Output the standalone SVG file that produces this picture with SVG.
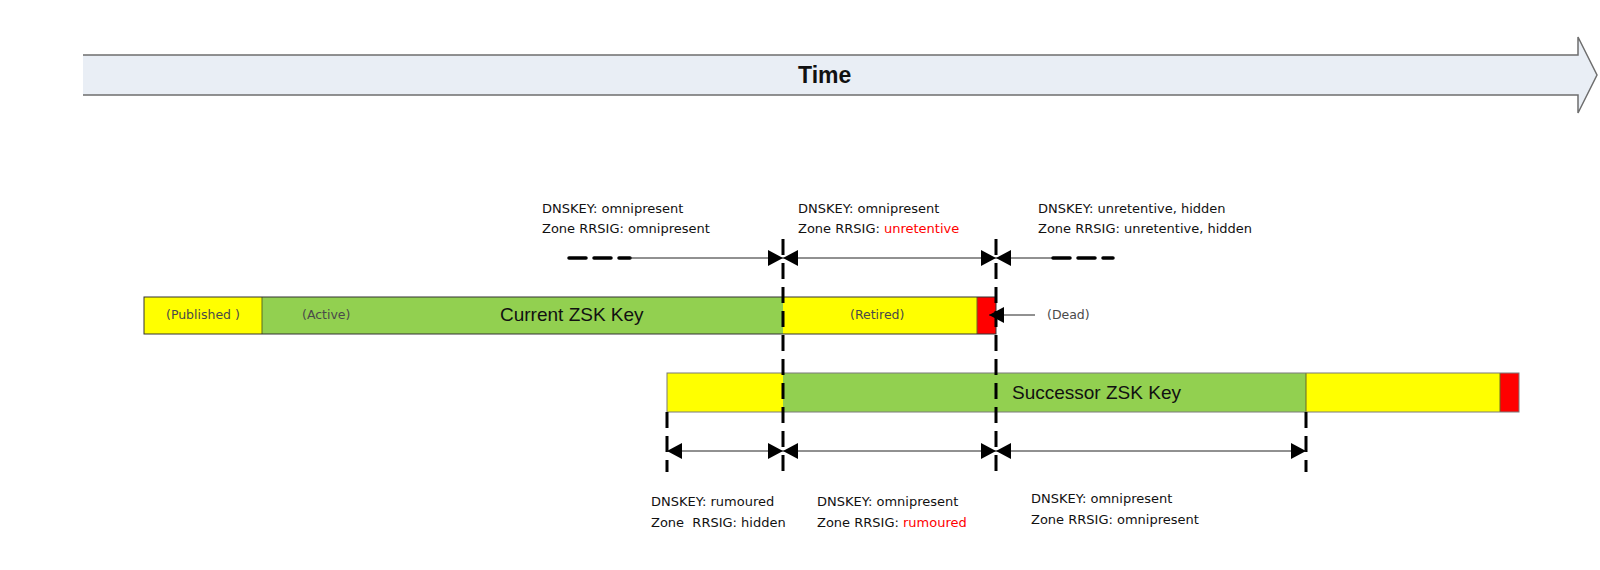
<svg xmlns="http://www.w3.org/2000/svg" width="1600" height="570" viewBox="0 0 1600 570">
<style>
.lbl{font-family:"DejaVu Sans","Liberation Sans",sans-serif;font-size:13px;fill:#111}
.red{fill:#FF0000}
.st{font-family:"DejaVu Sans","Liberation Sans",sans-serif;font-size:12.5px;fill:#4a4a4a}
.key{font-family:"Liberation Sans",Arial,sans-serif;font-size:19px;fill:#111}
.time{font-family:"Liberation Sans",Arial,sans-serif;font-size:23px;font-weight:bold;fill:#111}
.thin{stroke:#222;stroke-width:1;fill:none}
.dash{stroke:#000;stroke-width:3;stroke-dasharray:16 8;fill:none}
.tdash{stroke:#000;stroke-width:3.5;stroke-dasharray:17 8;fill:none;stroke-linecap:round}
.y{fill:#FFFF00}.g{fill:#92D050}.r{fill:#FF0000}
</style>
<defs>
<marker id="ah" markerUnits="userSpaceOnUse" markerWidth="15" markerHeight="16" refX="15" refY="8" orient="auto-start-reverse" viewBox="0 0 15 16">
<path d="M0,0 L15,8 L0,16 z" fill="#000"/>
</marker>
</defs>
<rect width="1600" height="570" fill="#fff"/>
<g id="time-arrow">
<polygon points="83,55 1578,55 1578,37 1597,75 1578,113 1578,95 83,95" fill="#E9EEF5"/>
<polyline points="83,55 1578,55 1578,37 1597,75 1578,113 1578,95 83,95" fill="none" stroke="#6e6e6e" stroke-width="1.5"/>
<text class="time" x="798" y="83">Time</text>
</g>
<g id="current-zsk">
<rect class="y" x="144" y="297" width="118" height="37"/>
<rect class="g" x="262" y="297" width="521" height="37"/>
<rect class="y" x="783" y="297" width="194" height="37"/>
<rect class="r" x="977" y="297" width="19" height="37"/>
<line x1="262" y1="297" x2="262" y2="334" stroke="#5a6a20" stroke-width="1"/>
<line x1="977" y1="297" x2="977" y2="334" stroke="#6a6a20" stroke-width="1"/>
<rect x="144" y="297" width="852" height="37" fill="none" stroke="#333" stroke-width="1"/>
<text class="st" x="166" y="319">(Published )</text>
<text class="st" x="302" y="319">(Active)</text>
<text class="key" x="500" y="321">Current ZSK Key</text>
<text class="st" x="850" y="319">(Retired)</text>
</g>
<g id="successor-zsk">
<rect class="y" x="667" y="373" width="116" height="39"/>
<rect class="g" x="783" y="373" width="523" height="39"/>
<rect class="y" x="1306" y="373" width="194" height="39"/>
<rect class="r" x="1500" y="373" width="19" height="39"/>
<line x1="1306" y1="373" x2="1306" y2="412" stroke="#6a6a20" stroke-width="1"/>
<line x1="1500" y1="373" x2="1500" y2="412" stroke="#6a6a20" stroke-width="1"/>
<rect x="667" y="373" width="852" height="39" fill="none" stroke="#7a7a7a" stroke-width="1"/>
<text class="key" x="1012" y="399">Successor ZSK Key</text>
</g>
<g id="dead-label">
<text class="st" x="1047" y="319">(Dead)</text>
</g>
<g id="top-labels">
<text class="lbl" x="542" y="213">DNSKEY: omnipresent</text>
<text class="lbl" x="542" y="233">Zone RRSIG: omnipresent</text>
<text class="lbl" x="798" y="213">DNSKEY: omnipresent</text>
<text class="lbl" x="798" y="233">Zone RRSIG: <tspan class="red">unretentive</tspan></text>
<text class="lbl" x="1038" y="213">DNSKEY: unretentive, hidden</text>
<text class="lbl" x="1038" y="233">Zone RRSIG: unretentive, hidden</text>
</g>
<g id="bottom-labels">
<text class="lbl" x="651" y="506">DNSKEY: rumoured</text>
<text class="lbl" x="651" y="527" xml:space="preserve">Zone  RRSIG: hidden</text>
<text class="lbl" x="817" y="506">DNSKEY: omnipresent</text>
<text class="lbl" x="817" y="527">Zone RRSIG: <tspan class="red">rumoured</tspan></text>
<text class="lbl" x="1031" y="503">DNSKEY: omnipresent</text>
<text class="lbl" x="1031" y="524">Zone RRSIG: omnipresent</text>
</g>
<g id="connectors">
<line class="dash" x1="783" y1="239" x2="783" y2="472"/>
<line class="dash" x1="996" y1="239" x2="996" y2="472"/>
<line class="dash" x1="667" y1="412" x2="667" y2="472"/>
<line class="dash" x1="1306" y1="412" x2="1306" y2="472"/>
<line class="tdash" x1="569" y1="258" x2="630" y2="258"/>
<line class="thin" x1="630" y1="258" x2="783" y2="258" marker-end="url(#ah)"/>
<line class="thin" x1="783" y1="258" x2="996" y2="258" marker-start="url(#ah)" marker-end="url(#ah)"/>
<line class="thin" x1="996" y1="258" x2="1052" y2="258" marker-start="url(#ah)"/>
<line class="tdash" x1="1053" y1="258" x2="1113" y2="258"/>
<line class="thin" x1="1035" y1="315" x2="989" y2="315" marker-end="url(#ah)"/>
<line class="thin" x1="667" y1="451" x2="783" y2="451" marker-start="url(#ah)" marker-end="url(#ah)"/>
<line class="thin" x1="783" y1="451" x2="996" y2="451" marker-start="url(#ah)" marker-end="url(#ah)"/>
<line class="thin" x1="996" y1="451" x2="1306" y2="451" marker-start="url(#ah)" marker-end="url(#ah)"/>
</g>
</svg>
